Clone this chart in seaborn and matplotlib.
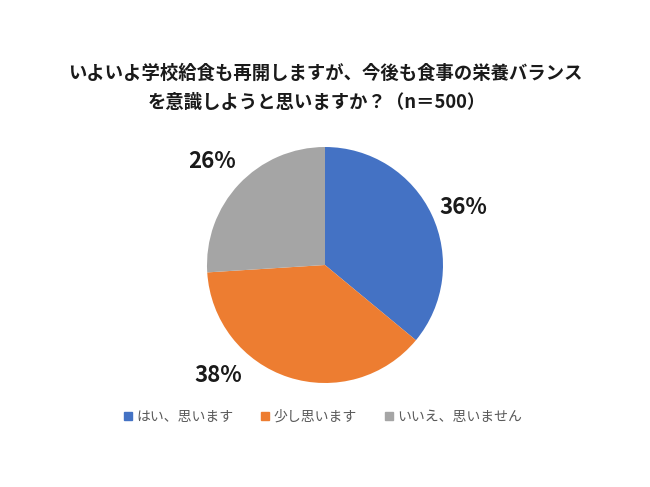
import matplotlib
matplotlib.use("Agg")
import matplotlib.pyplot as plt
import seaborn as sns
import numpy as np
from matplotlib.lines import Line2D

categories = ["はい、思います", "少し思います", "いいえ、思いません"]
values = [36, 38, 26]
colors = ["#4472C4", "#ED7D31", "#A5A5A5"]
title_lines = ["いよいよ学校給食も再開しますが、今後も食事の栄養バランス",
               "を意識しようと思いますか？（n＝500）"]

sns.set_theme(style="white")
plt.rcParams["font.family"] = ["Noto Sans CJK JP", "DejaVu Sans"]

W, H = 650, 487
fig = plt.figure(figsize=(W / 100, H / 100), dpi=100)
fig.patch.set_facecolor("white")

cx, cy, r = 325, 265, 118
ax = fig.add_axes([(cx - r) / W, (H - cy - r) / H, 2 * r / W, 2 * r / H])
wedges, texts, autotexts = ax.pie(
    values, colors=colors, startangle=90, counterclock=False,
    autopct=lambda p: f"{p:.0f}%", pctdistance=1.28,
    wedgeprops=dict(linewidth=0),
    textprops=dict(fontsize=16, fontweight="bold", color="#1a1a1a"),
)
ax.set_xlim(-1, 1)
ax.set_ylim(-1, 1)
ax.set_aspect("equal")

# Excel "best fit" label placements (angle in degrees, radial distance)
label_pos = {1: (-134, 1.30), 2: (137.5, 1.30), 0: (22.5, 1.265)}
for i, (ang, dist) in label_pos.items():
    a = np.deg2rad(ang)
    autotexts[i].set_position((dist * np.cos(a), dist * np.sin(a)))
    autotexts[i].set_ha("center")
    autotexts[i].set_va("center")

fig.text(0.5, 1 - 73 / H, title_lines[0], ha="center", va="center",
         fontsize=13.2, fontweight="bold", color="#1a1a1a")
fig.text(0.487, 1 - 102 / H, title_lines[1], ha="center", va="center",
         fontsize=13.2, fontweight="bold", color="#1a1a1a")

handles = [Line2D([0], [0], marker="s", linestyle="", markersize=6,
                  markerfacecolor=c, markeredgecolor=c) for c in colors]
leg = fig.legend(handles, categories, loc="center", ncol=3,
                 bbox_to_anchor=(0.497, 1 - 417 / H), frameon=False,
                 fontsize=10, handlelength=0.6, handletextpad=0.3,
                 columnspacing=2.0, labelcolor="#595959")

fig.savefig("out.png", dpi=100, facecolor="white")
